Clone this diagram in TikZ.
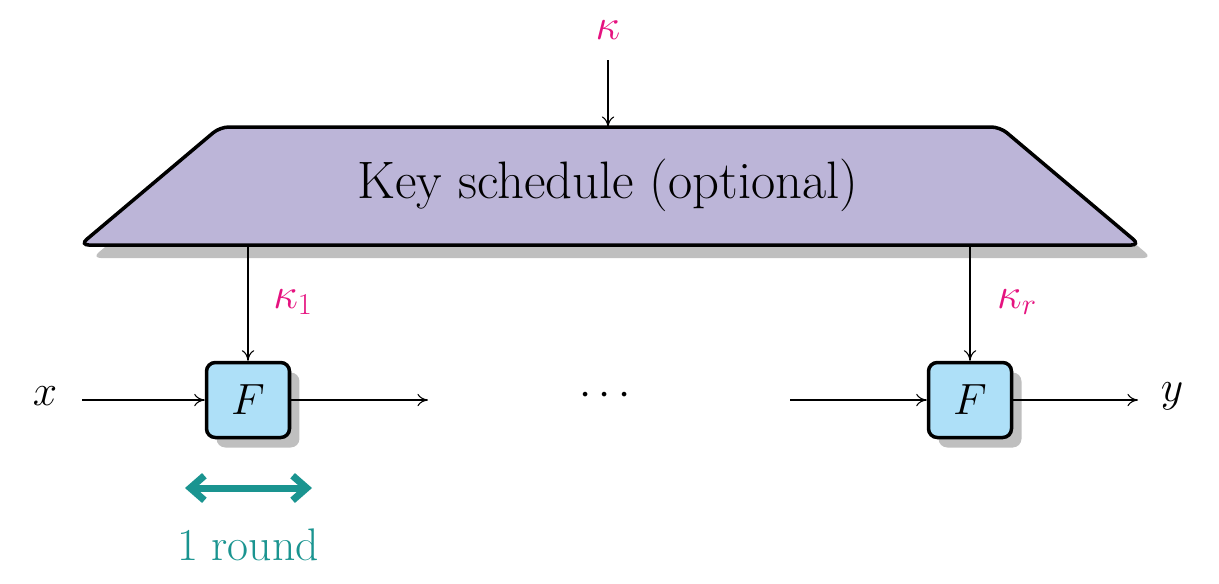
\documentclass[tikz,border=0pt]{standalone}
\usetikzlibrary{arrows.meta,shadows}
\definecolor{lav}{HTML}{BCB5D8}
\definecolor{lblue}{HTML}{AEE0F8}
\definecolor{teal2}{HTML}{1A9490}
\definecolor{mag}{HTML}{E5127F}
\begin{document}
\begin{tikzpicture}[x=0.02cm,y=-0.02cm,
  big/.style={font=\fontsize{30}{32}\selectfont},
  key/.style={text=mag,font=\fontsize{25}{27}\selectfont},
  fbox/.style={draw,line width=2pt,rounded corners=5pt,fill=lblue,minimum width=1.66cm,minimum height=1.5cm,inner sep=0pt,font=\fontsize{30}{32}\selectfont,drop shadow={shadow xshift=0.2cm,shadow yshift=-0.2cm,fill=black!25,opacity=1}},
  arr/.style={-{To[length=6pt,width=7pt]},line width=0.6pt}]
\useasboundingbox (0,0) rectangle (1219,583);
\fill[black!25,rounded corners=5pt] (232,140) -- (1012,140) -- (1152,258) -- (92,258) -- cycle;
\draw[line width=2pt,fill=lav,rounded corners=5pt] (220,127) -- (1000,127) -- (1140,245) -- (80,245) -- cycle;
\node[big] (ks) at (608,185) {Key schedule (optional)};
\coordinate (kstop) at (608,127);
\coordinate (ksl) at (248,245);
\coordinate (ksr) at (970,245);
\node[key] (k) at (608,30) {$\kappa$};
\draw[arr] (608,60) -- (kstop);
\node[fbox] (F1) at (248,400) {$F$};
\node[fbox] (F2) at (970,400) {$F$};
\draw[arr] (ksl) -- (F1.north);
\draw[arr] (ksr) -- (F2.north);
\node[key] (k1) at (293,302) {$\kappa_1$};
\node[key] (kr) at (1017,302) {$\kappa_r$};
\node[big] (x) at (45,396) {$x$};
\node[big] (y) at (1172,396) {$y$};
\node[big] (dots) at (605,396) {$\cdots$};
\coordinate (m1) at (428,400);
\coordinate (m2) at (790,400);
\coordinate (ye) at (1138,400);
\draw[arr] (82,400) -- (F1.west);
\draw[arr] (F1.east) -- (m1);
\draw[arr] (m2) -- (F2.west);
\draw[arr] (F2.east) -- (ye);
\coordinate (ra) at (185,488);
\coordinate (rb) at (312,488);
\draw[teal2,line width=4pt,{Straight Barb[length=8pt,width=14pt]}-{Straight Barb[length=8pt,width=14pt]}] (ra) -- (rb);
\node[text=teal2,font=\fontsize{26}{28}\selectfont] (r) at (248,545) {1 round};
\end{tikzpicture}
\end{document}
